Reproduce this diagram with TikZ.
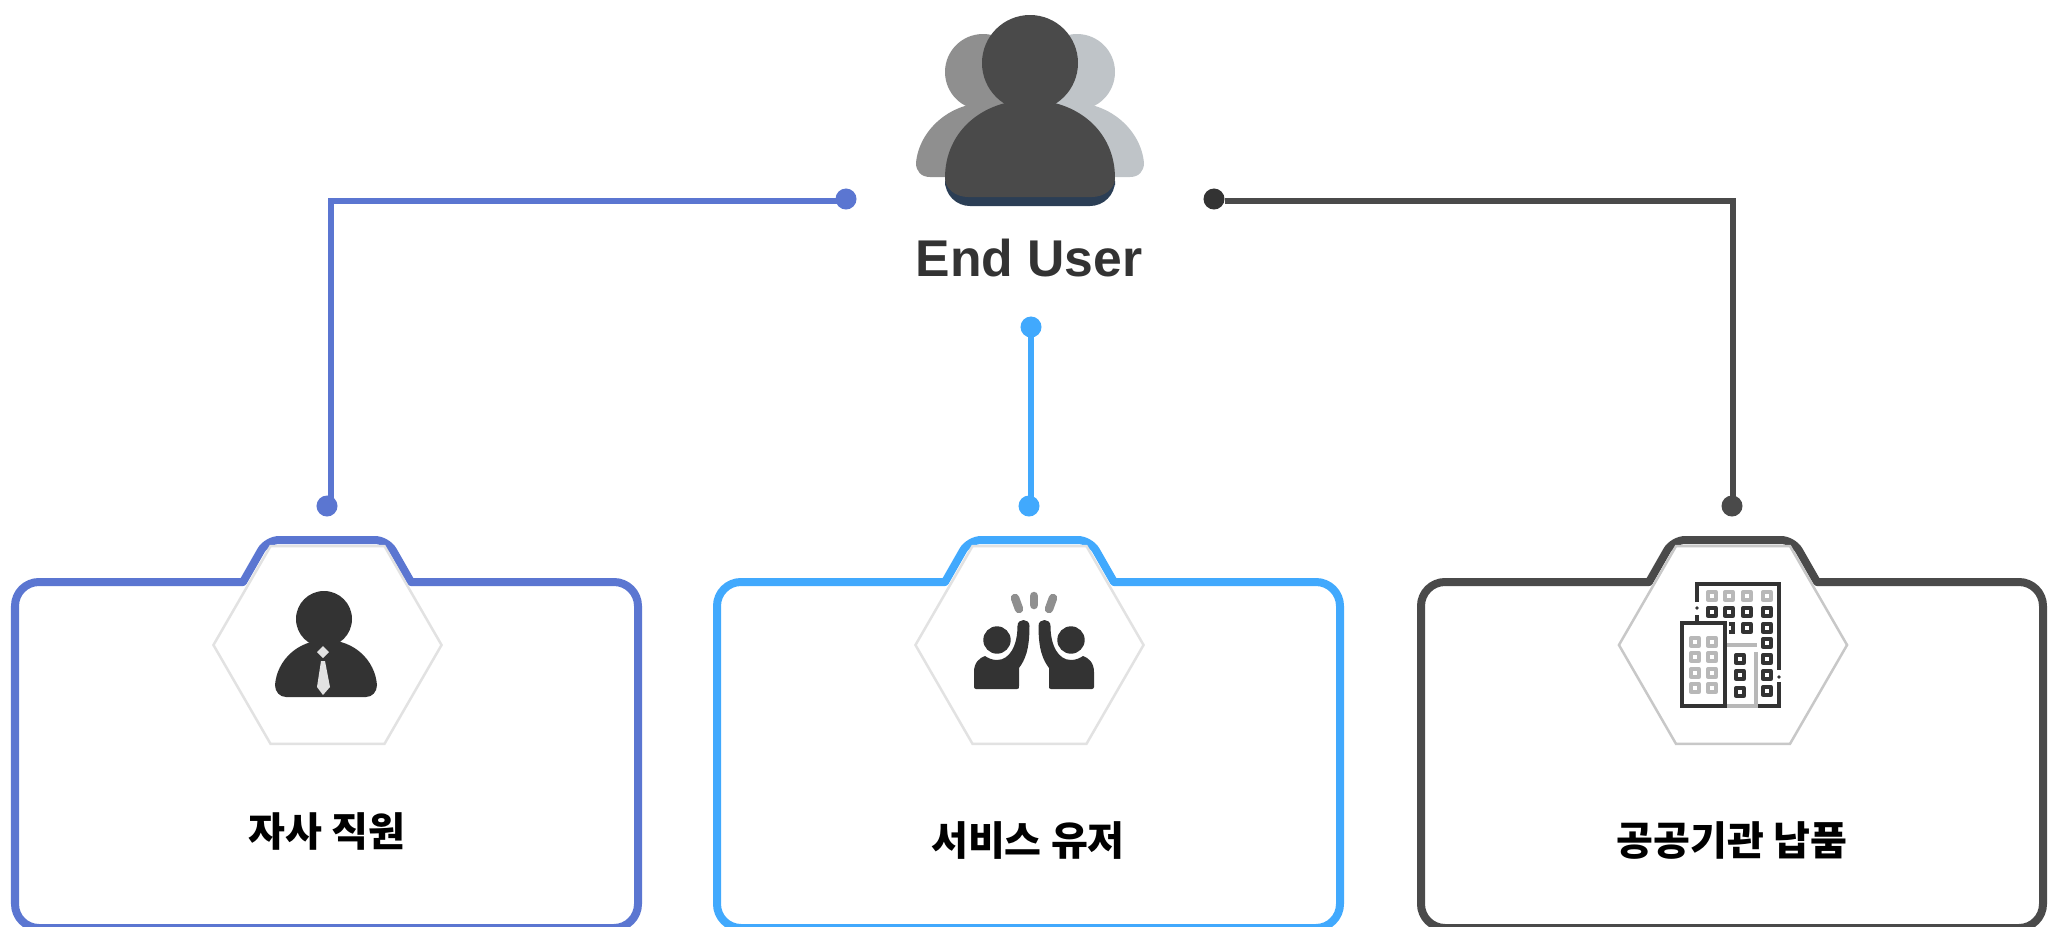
\documentclass[tikz,border=0pt]{standalone}
\usepackage{fontspec}
\setmainfont{Liberation Sans}
\newfontfamily\krfont{Noto Sans CJK KR}
\usetikzlibrary{shapes.geometric}
\definecolor{cardblue}{RGB}{91,118,209}
\definecolor{cardsky}{RGB}{65,169,253}
\definecolor{carddark}{RGB}{74,74,74}
\definecolor{icondark}{RGB}{51,51,51}
\definecolor{iconmid}{RGB}{143,143,143}
\definecolor{iconlight}{RGB}{191,196,200}
\definecolor{iconnavy}{RGB}{43,62,85}
\definecolor{hexgray}{RGB}{226,226,226}
\definecolor{hexdark}{RGB}{200,200,200}
\definecolor{wingray}{RGB}{184,184,184}

\begin{document}
\begin{tikzpicture}[x=0.01cm, y=-0.01cm,
  cardline/.style={line width=0.08cm},
  linkline/.style={line width=0.058cm},
  dotnode/.style={circle, inner sep=0pt, minimum size=0.21cm},
  hexnode/.style={draw, fill=white, regular polygon, regular polygon sides=6, inner sep=0pt, minimum size=2.28cm, line width=0.025cm},
  cardlabel/.style={font=\krfont\bfseries\fontsize{11.4}{13}\selectfont, text=black},
  winbox/.style={line width=0.033cm, line join=round}]
\clip (0,0) rectangle (2059,927);
% End user icon, back figures
\fill[iconmid] (983,72) circle[radius=38];
\fill[iconmid] (916,163) .. controls (919,130) and (950,103) .. (985,103) -- (1030,103) -- (1030,177) -- (930,177) .. controls (921,177) and (916,171) .. (916,163) -- cycle;
\fill[iconlight] (1077,72) circle[radius=38];
\fill[iconlight] (1144,163) .. controls (1141,130) and (1110,103) .. (1075,103) -- (1030,103) -- (1030,177) -- (1130,177) .. controls (1139,177) and (1144,171) .. (1144,163) -- cycle;
% End user icon, front figure
\fill[iconnavy, rounded corners=0.25cm] (945,160) rectangle (1115,206);
\fill[carddark] (1030,63) circle[radius=48];
\fill[carddark] (945,178) .. controls (945,131) and (983,100) .. (1030,100) .. controls (1077,100) and (1115,131) .. (1115,178) .. controls (1115,189) and (1104,197) .. (1092,197) -- (968,197) .. controls (956,197) and (945,189) .. (945,178) -- cycle;
\node[font=\bfseries\fontsize{14.7}{16}\selectfont, text=icondark] (enduser) at (1029,258) {End User};
% Connector dots
\node[dotnode, fill=cardblue] (dotUL) at (846,199) {};
\node[dotnode, fill=cardblue] (dotBL) at (327,506) {};
\node[dotnode, fill=cardsky] (dotUM) at (1031,327) {};
\node[dotnode, fill=cardsky] (dotBM) at (1029,506) {};
\node[dotnode, fill=icondark] (dotUR) at (1214,199) {};
\node[dotnode, fill=carddark] (dotBR) at (1732,506) {};
% Connectors
\draw[linkline, cardblue] ([yshift=-0.02cm]dotUL.center) -| ([xshift=0.04cm]dotBL.center);
\draw[linkline, cardsky] (dotUM.center) -- (dotUM.center |- dotBM.center);
\draw[linkline, carddark] ([yshift=-0.02cm]dotUR.east) -| ([xshift=0.01cm]dotBR.center);
% Left card
\draw[cardline, cardblue, line join=round] (243,582) [rounded corners=0.24cm] -- (15,582) -- (15,928) -- (638,928) -- (638,582) [sharp corners] -- (411,582) [rounded corners=0.12cm] -- (387,540) -- (267,540) [sharp corners] -- (243,582) -- cycle;
\node[hexnode, draw=hexgray] (hexL) at (327.5,645) {};
\node[cardlabel] (labelL) at (327,831) {자사 직원};
% Middle card
\draw[cardline, cardsky, line join=round] (945,582) [rounded corners=0.24cm] -- (717,582) -- (717,928) -- (1340,928) -- (1340,582) [sharp corners] -- (1114,582) [rounded corners=0.12cm] -- (1090,540) -- (969,540) [sharp corners] -- (945,582) -- cycle;
\node[hexnode, draw=hexgray] (hexM) at (1029.5,645) {};
\node[cardlabel] (labelM) at (1028,840) {서비스 유저};
% Right card
\draw[cardline, carddark, line join=round] (1649,582) [rounded corners=0.24cm] -- (1421,582) -- (1421,928) -- (2043,928) -- (2043,582) [sharp corners] -- (1817,582) [rounded corners=0.12cm] -- (1793,540) -- (1673,540) [sharp corners] -- (1649,582) -- cycle;
\node[hexnode, draw=hexdark] (hexR) at (1733,645) {};
\node[cardlabel] (labelR) at (1732,840) {공공기관 납품};
% Staff icon
\fill[icondark] (324,619) circle[radius=28];
\fill[icondark] (275,685) .. controls (277,660) and (298,640) .. (326,640) .. controls (354,640) and (375,660) .. (377,685) .. controls (377,692) and (372,697) .. (366,697) -- (286,697) .. controls (280,697) and (275,692) .. (275,685) -- cycle;
\fill[hexgray] (323,646) -- (329,652) -- (323,658) -- (317,652) -- cycle;
\fill[hexgray] (321,661) -- (325,661) -- (330,687) -- (323,695) -- (317,687) -- cycle;
% High five icon
\fill[icondark] (997,640) circle[radius=13.7];
\fill[icondark] (1071,640) circle[radius=13.7];
\fill[icondark] (976,689) -- (1017,689) .. controls (1019,689) and (1019,688) .. (1019,686) -- (1019,668) .. controls (1025,660) and (1029.5,650) .. (1029.5,626) .. controls (1029.5,618) and (1017.5,618) .. (1017.5,626) .. controls (1017.5,645) and (1010,660) .. (997,660) .. controls (992,660) and (988,658) .. (985,656) .. controls (979,658) and (974,663) .. (974,672) -- (974,687) .. controls (974,688) and (975,689) .. (976,689) -- cycle;
\fill[icondark] (1092,689) -- (1051,689) .. controls (1049,689) and (1049,688) .. (1049,686) -- (1049,668) .. controls (1043,660) and (1038.5,650) .. (1038.5,626) .. controls (1038.5,618) and (1050.5,618) .. (1050.5,626) .. controls (1050.5,645) and (1058,660) .. (1071,660) .. controls (1076,660) and (1080,658) .. (1083,656) .. controls (1089,658) and (1094,663) .. (1094,672) -- (1094,687) .. controls (1094,688) and (1093,689) .. (1092,689) -- cycle;
\draw[iconmid, line width=0.085cm, line cap=round] (1034,596) -- (1034,605);
\draw[iconmid, line width=0.085cm, line cap=round] (1015,598) -- (1019,609);
\draw[iconmid, line width=0.085cm, line cap=round] (1053,598) -- (1049,609);
% Building icon
\draw[icondark, line width=0.035cm] (1697,602) -- (1697,584) -- (1779,584) -- (1779,670);
\draw[icondark, line width=0.035cm] (1697,615) -- (1697,622);
\draw[icondark, line width=0.035cm] (1779,682) -- (1779,706) -- (1757,706);
\fill[icondark] (1697,608) circle[radius=1.8];
\fill[icondark] (1779,677) circle[radius=1.8];
\draw[wingray, line width=0.035cm] (1726,645) -- (1757,645);
\draw[wingray, line width=0.035cm] (1756,652) -- (1756,706) -- (1726,706);
\draw[icondark, line width=0.035cm, fill=white] (1682,623) rectangle (1725,706);
\foreach \wx/\wy in {1712/596,1729/596,1747/596,1767/596,1695/642,1712/642,1695/657,1712/657,1695/673,1712/673,1695/688,1712/688}
  \draw[winbox, wingray] (\wx-4,\wy-4) rectangle (\wx+4,\wy+4);
\foreach \wx/\wy in {1712/612,1729/612,1747/612,1767/612,1747/628,1767/628,1767/643,1767/659,1767/675,1767/691,1740/659,1740/675,1740/692}
  \draw[winbox, icondark] (\wx-4,\wy-4) rectangle (\wx+4,\wy+4);
\draw[icondark, line width=0.033cm] (1729,624) -- (1733,624) -- (1733,632) -- (1729,632);
\end{tikzpicture}
\end{document}
